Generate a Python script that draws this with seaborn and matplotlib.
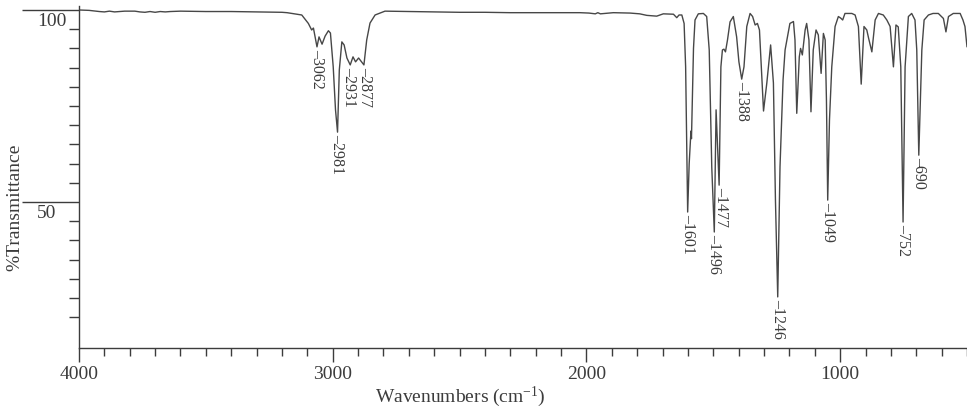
import pandas as pd
import seaborn as sns
import matplotlib.pyplot as plt
from matplotlib.ticker import FixedLocator, MultipleLocator

# === Spectrum (wavenumber in cm-1, %T) ===
wavenumber = [
    4000, 3960, 3920, 3900, 3880, 3860, 3840, 3820, 3780, 3760, 3740, 3720,
    3700, 3680, 3660, 3640, 3600, 3500, 3400, 3300, 3200, 3180, 3150, 3122,
    3096, 3083, 3076, 3062, 3054, 3042, 3030, 3017, 3009, 2998, 2989, 2981,
    2974, 2964, 2955, 2944, 2931, 2920, 2910, 2898, 2877, 2866, 2853, 2833,
    2794, 2700, 2600, 2500, 2400, 2300, 2200, 2100, 2025, 1990, 1965, 1955,
    1945, 1894, 1828, 1790, 1762, 1723, 1697, 1657, 1644, 1635, 1624, 1615,
    1609, 1601, 1595, 1590, 1588, 1586, 1583, 1578, 1572, 1559, 1539, 1526,
    1516, 1506, 1496, 1489, 1477, 1470, 1464, 1458, 1452, 1444, 1434, 1421,
    1408, 1399, 1388, 1379, 1368, 1355, 1345, 1335, 1326, 1318, 1312, 1302,
    1289, 1274, 1263, 1255, 1246, 1237, 1225, 1217, 1198, 1184, 1178, 1171,
    1161, 1156, 1149, 1138, 1132, 1123, 1115, 1106, 1095, 1086, 1075, 1066,
    1059, 1054, 1049, 1042, 1033, 1020, 1007, 998, 990, 981, 954, 941,
    928, 917, 906, 895, 888, 875, 862, 849, 830, 816, 803, 790,
    780, 771, 761, 752, 744, 731, 718, 705, 698, 690, 678, 669,
    652, 634, 613, 593, 583, 573, 554, 527, 516, 508, 500,
]
transmittance = [
    100.0, 99.9, 99.6, 99.5, 99.7, 99.5, 99.6, 99.7, 99.7, 99.5, 99.4, 99.6,
    99.4, 99.6, 99.5, 99.6, 99.7, 99.6, 99.6, 99.5, 99.4, 99.3, 99.0, 98.7,
    96.5, 94.8, 95.3, 90.4, 93.0, 91.1, 93.2, 94.6, 94.0, 85.2, 74.0, 68.2,
    84.4, 91.7, 90.9, 87.5, 85.7, 87.8, 86.5, 87.5, 85.7, 92.2, 96.6, 98.7,
    99.7, 99.6, 99.5, 99.4, 99.4, 99.3, 99.3, 99.3, 99.3, 99.2, 99.0, 99.3,
    99.0, 99.3, 99.2, 99.0, 98.6, 98.4, 99.0, 98.9, 98.0, 98.7, 98.7, 96.5,
    85.2, 47.4, 60.0, 66.3, 68.5, 66.5, 75.0, 90.0, 97.4, 99.0, 99.1, 98.3,
    89.6, 59.1, 42.2, 74.0, 54.4, 85.2, 89.6, 89.8, 89.1, 92.2, 96.9, 98.3,
    93.0, 86.5, 82.0, 85.2, 95.7, 99.1, 98.3, 96.1, 96.5, 94.8, 87.0, 73.7,
    81.0, 90.9, 81.0, 50.5, 25.3, 59.2, 81.8, 89.6, 96.5, 97.0, 92.2, 73.1,
    87.8, 90.0, 88.3, 94.8, 96.5, 92.2, 73.5, 89.6, 94.8, 93.5, 83.5, 93.9,
    92.2, 76.6, 50.5, 71.4, 85.2, 95.7, 98.3, 97.9, 97.4, 99.1, 99.1, 98.7,
    95.7, 80.7, 95.7, 94.8, 92.7, 89.1, 97.4, 99.1, 98.7, 97.4, 95.7, 85.2,
    96.1, 95.6, 85.2, 44.8, 85.2, 98.3, 99.1, 97.4, 89.6, 62.2, 89.6, 97.4,
    98.7, 99.1, 99.1, 97.8, 94.3, 98.3, 99.1, 99.1, 97.4, 95.7, 90.4,
]

# === Peak annotations: labelled band and where its text column sits ===
peak_labels = [3062, 2981, 2931, 2877, 1601, 1496, 1477, 1388, 1246, 1049, 752, 690]
label_x = [3062, 2981, 2936, 2872, 1601, 1496, 1470, 1388, 1246, 1049, 752, 690]

sns.set_theme(style="ticks")
plt.rcParams["font.family"] = ["Liberation Serif", "DejaVu Serif"]
plt.rcParams["mathtext.default"] = "regular"

ink = "#3c3c3c"
fig = plt.figure(figsize=(9.67, 4.11), dpi=100)
ax = fig.add_axes([79 / 967, 63 / 411, 888 / 967, 342 / 411])

spec = pd.DataFrame({"wn": wavenumber, "T": transmittance})
sns.lineplot(data=spec, x="wn", y="T", ax=ax, color="#474747", lw=1.0,
             sort=False, estimator=None)

ax.set_xlim(4000, 500)
ax.set_ylim(12.0, 101.04)
sns.despine(ax=ax)
for s in ("left", "bottom"):
    ax.spines[s].set_color(ink)
    ax.spines[s].set_linewidth(1.0)

# x ticks
ax.xaxis.set_major_locator(FixedLocator([4000, 3000, 2000, 1000]))
ax.xaxis.set_minor_locator(MultipleLocator(100))
ax.tick_params(axis="x", which="major", length=10, width=1, direction="out",
               labelsize=14, pad=3, colors=ink)
ax.tick_params(axis="x", which="minor", length=6, width=1, direction="out", colors=ink)

# y ticks: long marks at 50/100, short every 5
ax.yaxis.set_major_locator(FixedLocator([50, 100]))
ax.yaxis.set_minor_locator(FixedLocator([v for v in range(20, 100, 5) if v != 50]))
ax.tick_params(axis="y", which="major", length=41, width=1, direction="out",
               labelleft=False, colors=ink)
ax.tick_params(axis="y", which="minor", length=7, width=1, direction="out", colors=ink)
for v in (100, 50):
    ax.annotate(str(v), xy=(0, v), xycoords=ax.get_yaxis_transform(),
                xytext=(-42, -3), textcoords="offset pixels",
                ha="left", va="top", fontsize=14, color=ink)

ax.set_xlabel("Wavenumbers (cm$^{-1}$)", fontsize=14, color=ink)
ax.xaxis.set_label_coords(0.430, -0.108)
ax.set_ylabel("%Transmittance", fontsize=14, color=ink)
ax.yaxis.set_label_coords(-0.063, 0.412)

tip = dict(zip(wavenumber, transmittance))
for p, lx in zip(peak_labels, label_x):
    ax.annotate("\u2013" + str(p), xy=(lx, tip[p]), xytext=(0, -2),
                textcoords="offset pixels", rotation=270,
                ha="center", va="top", fontsize=11.5, color=ink)

fig.savefig("out.png", dpi=100)
